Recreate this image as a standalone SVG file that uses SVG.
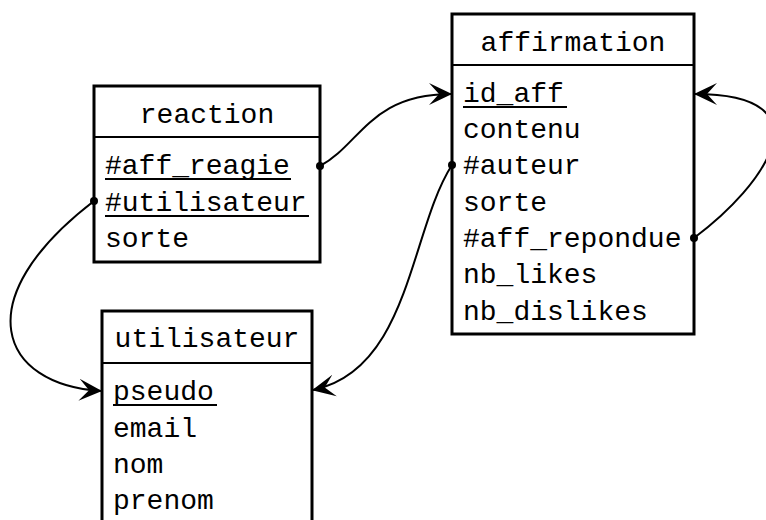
<svg xmlns="http://www.w3.org/2000/svg" width="766" height="520" viewBox="0 0 766 520">
<style>
.box{fill:#fff;stroke:#000;stroke-width:3}
.div{stroke:#000;stroke-width:2}
text{font-family:"Liberation Mono","DejaVu Sans Mono",monospace;font-size:28px;fill:#000}
.t{text-anchor:middle}
.ul{stroke:#000;stroke-width:2}
.con{fill:none;stroke:#000;stroke-width:2}
.dot{fill:#000}
</style>
<defs>
<marker id="arr" viewBox="0 0 24 24" refX="22" refY="12" markerWidth="24" markerHeight="24" markerUnits="userSpaceOnUse" orient="auto">
<path d="M0,1 L23,12 L0,23 L10,12 Z" fill="#000"/>
</marker>
</defs>
<g id="reaction">
<rect class="box" x="94" y="86" width="226" height="176"/>
<line class="div" x1="94" y1="137" x2="320" y2="137"/>
<text class="t" x="207" y="123">reaction</text>
<text x="105" y="174">#aff_reagie</text>
<line class="ul" x1="105" y1="179" x2="291" y2="179"/>
<text x="105" y="211">#utilisateur</text>
<line class="ul" x1="105" y1="216" x2="309" y2="216"/>
<text x="105" y="247">sorte</text>
</g>
<g id="affirmation">
<rect class="box" x="452" y="14" width="242" height="320"/>
<line class="div" x1="452" y1="65" x2="694" y2="65"/>
<text class="t" x="573" y="51">affirmation</text>
<text x="463" y="102">id_aff</text>
<line class="ul" x1="463" y1="107" x2="567" y2="107"/>
<text x="463" y="138">contenu</text>
<text x="463" y="174">#auteur</text>
<text x="463" y="211">sorte</text>
<text x="463" y="247">#aff_repondue</text>
<text x="463" y="283">nb_likes</text>
<text x="463" y="320">nb_dislikes</text>
</g>
<g id="utilisateur">
<rect class="box" x="102" y="311" width="210" height="230"/>
<line class="div" x1="102" y1="363" x2="312" y2="363"/>
<text class="t" x="207" y="347">utilisateur</text>
<text x="113" y="400">pseudo</text>
<line class="ul" x1="113" y1="405" x2="217" y2="405"/>
<text x="113" y="437">email</text>
<text x="113" y="473">nom</text>
<text x="113" y="509">prenom</text>
</g>
<g id="connectors">
<path class="con" d="M320,166 C360,145 370,94 451,94" marker-end="url(#arr)"/>
<circle class="dot" cx="320" cy="166" r="4"/>
<path class="con" d="M94,201 C-35,300 0,385 101,391" marker-end="url(#arr)"/>
<circle class="dot" cx="94" cy="201" r="4"/>
<path class="con" d="M452,165 C410,230 410,370 313,390" marker-end="url(#arr)"/>
<circle class="dot" cx="452" cy="165" r="4"/>
<path class="con" d="M694,238 C765,185 830,94 695,94" marker-end="url(#arr)"/>
<circle class="dot" cx="694" cy="238" r="4"/>
</g>
</svg>
